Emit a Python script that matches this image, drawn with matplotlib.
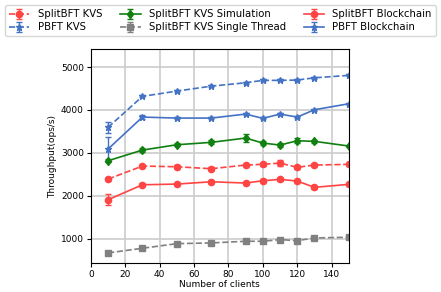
import matplotlib
matplotlib.use("Agg")
import matplotlib.pyplot as plt
import numpy as np

clients = [10, 30, 50, 70, 90, 100, 110, 120, 130, 150]

splitbft_kvs = [2389, 2692, 2676, 2630, 2716, 2732, 2762, 2662, 2716, 2732]
splitbft_kvs_err = [30, 30, 30, 30, 30, 30, 70, 30, 30, 30]
pbft_kvs = [3594, 4317, 4440, 4555, 4634, 4690, 4690, 4697, 4750, 4806]
pbft_kvs_err = [130, 25, 25, 25, 25, 25, 25, 25, 25, 25]
sim_kvs = [2816, 3065, 3189, 3245, 3345, 3228, 3182, 3282, 3268, 3159]
sim_kvs_err = [40, 50, 40, 50, 90, 40, 40, 60, 40, 30]
single_kvs = [667, 776, 883, 900, 939, 939, 977, 953, 1016, 1033]
single_kvs_err = [20, 25, 25, 25, 25, 25, 25, 25, 25, 25]
splitbft_bc = [1907, 2256, 2272, 2326, 2296, 2350, 2382, 2343, 2196, 2266]
splitbft_bc_err = [130, 30, 30, 30, 30, 30, 30, 30, 30, 30]
pbft_bc = [3089, 3834, 3811, 3811, 3904, 3804, 3904, 3834, 4005, 4145]
pbft_bc_err = [280, 40, 25, 25, 25, 25, 25, 25, 25, 25]

red = "#ff4444"
blue = "#4472c4"
green = "#108010"
gray = "#808080"

fig = plt.figure(figsize=(4.41, 2.92), dpi=100)
ax = fig.add_axes([0.206, 0.099, 0.585, 0.733])

kw = dict(capsize=2.5, elinewidth=1, markersize=4.5, linewidth=1.2)
h1 = ax.errorbar(clients, splitbft_kvs, yerr=splitbft_kvs_err, color=red, marker='o', linestyle='--', label='SplitBFT KVS', **kw)
h2 = ax.errorbar(clients, pbft_kvs, yerr=pbft_kvs_err, color=blue, marker='*', linestyle='--', label='PBFT KVS', **kw)
h3 = ax.errorbar(clients, sim_kvs, yerr=sim_kvs_err, color=green, marker='d', linestyle='-', label='SplitBFT KVS Simulation', **kw)
h4 = ax.errorbar(clients, single_kvs, yerr=single_kvs_err, color=gray, marker='s', linestyle='--', label='SplitBFT KVS Single Thread', **kw)
h5 = ax.errorbar(clients, splitbft_bc, yerr=splitbft_bc_err, color=red, marker='o', linestyle='-', label='SplitBFT Blockchain', **kw)
h6 = ax.errorbar(clients, pbft_bc, yerr=pbft_bc_err, color=blue, marker='*', linestyle='-', label='PBFT Blockchain', **kw)

ax.set_xlim(0, 150)
ax.set_ylim(430, 5420)
ax.set_xticks([0, 20, 40, 60, 80, 100, 120, 140])
ax.set_yticks([1000, 2000, 3000, 4000, 5000])
ax.grid(True, color='#cccccc', linewidth=1.2)
ax.set_axisbelow(True)
ax.tick_params(labelsize=6.5, length=3, pad=2)
ax.set_xlabel('Number of clients', fontsize=6.5, labelpad=1)
ax.set_ylabel('Throughput(ops/s)', fontsize=6.5, labelpad=3)

fig.legend(handles=[h1, h2, h3, h4, h5, h6], loc='upper center', bbox_to_anchor=(0.5, 1.0),
           ncol=3, fontsize=7.3, frameon=True, handlelength=2, columnspacing=1.8,
           borderpad=0.4, labelspacing=0.3, handletextpad=0.8)

fig.savefig('out.png', dpi=100)
